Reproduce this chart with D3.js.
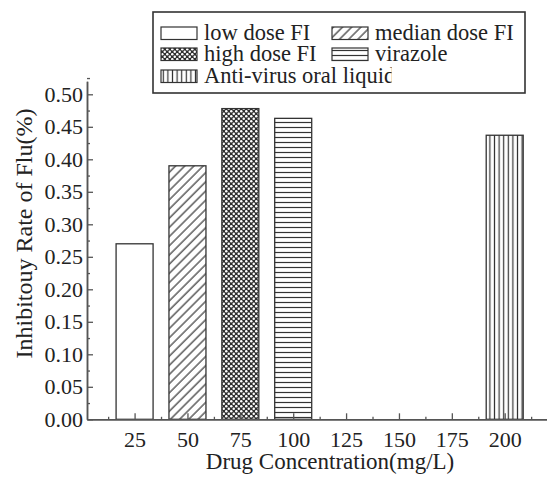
<!DOCTYPE html>
<html>
<head>
  <meta charset="utf-8">
  <style>
  body { margin: 0; background: #fff; }
  text { font-family: "Liberation Serif", "Times New Roman", serif; fill: #222; }
  .axis .domain { stroke: #555; stroke-width: 1.5; }
  .axis line { stroke: #555; stroke-width: 1.3; }
  .axis text { font-size: 22px; font-family: "Liberation Serif", serif; fill: #222; }
  .bar { stroke: #333; stroke-width: 1.3; }
  .legend-box { fill: #fff; stroke: #333; stroke-width: 1.6; }
  .legend text { font-size: 22.5px; }
  </style>
  <script src="https://d3js.org/d3.v7.min.js"></script>
</head>
<body>
<div id="container"></div>
<script>
// data
var series = ["low dose FI", "median dose FI", "high dose FI", "virazole", "Anti-virus oral liquid"]
var concentrations = [25, 50, 75, 100, 200]
var rates = [0.27, 0.39, 0.478, 0.463, 0.437]
var xTicks = [25, 50, 75, 100, 125, 150, 175, 200]
var yTicks = [0, 0.05, 0.10, 0.15, 0.20, 0.25, 0.30, 0.35, 0.40, 0.45, 0.50]

var width = 547, height = 479, barWidth = 37

var x = d3.scaleLinear().domain([2.5, 220]).range([87, 547])
var y = d3.scaleLinear().domain([0, 0.52]).range([419.3, 81.3])

var svg = d3.select("#container").append("svg")
    .attr("width", width)
    .attr("height", height)

var defs = svg.append("defs")

// fill patterns, one per series
var p
p = defs.append("pattern").attr("id", "pat1").attr("patternUnits", "userSpaceOnUse")
  .attr("width", 6.5).attr("height", 6.5).attr("patternTransform", "rotate(45)")
p.append("rect").attr("width", 6.5).attr("height", 6.5).attr("fill", "#fff")
p.append("line").attr("x1", 1).attr("x2", 1).attr("y1", 0).attr("y2", 6.5)
  .attr("stroke", "#333").attr("stroke-width", 1.2)

p = defs.append("pattern").attr("id", "pat2").attr("patternUnits", "userSpaceOnUse")
  .attr("width", 5).attr("height", 5)
p.append("rect").attr("width", 5).attr("height", 5).attr("fill", "#2e2e2e")
p.append("circle").attr("cx", 1.25).attr("cy", 1.25).attr("r", 1.25).attr("fill", "#fff")
p.append("circle").attr("cx", 3.75).attr("cy", 3.75).attr("r", 1.25).attr("fill", "#fff")

p = defs.append("pattern").attr("id", "pat3").attr("patternUnits", "userSpaceOnUse")
  .attr("width", 10).attr("height", 5)
p.append("rect").attr("width", 10).attr("height", 5).attr("fill", "#fff")
p.append("line").attr("x1", 0).attr("x2", 10).attr("y1", 2.5).attr("y2", 2.5)
  .attr("stroke", "#333").attr("stroke-width", 1.2)

p = defs.append("pattern").attr("id", "pat4").attr("patternUnits", "userSpaceOnUse")
  .attr("width", 4.6).attr("height", 10)
p.append("rect").attr("width", 4.6).attr("height", 10).attr("fill", "#fff")
p.append("line").attr("x1", 2.3).attr("x2", 2.3).attr("y1", 0).attr("y2", 10)
  .attr("stroke", "#333").attr("stroke-width", 1.2)

var fills = ["#fff", "url(#pat1)", "url(#pat2)", "url(#pat3)", "url(#pat4)"]

// bars
svg.selectAll(".bar")
    .data(rates)
  .enter().append("rect")
    .attr("class", "bar")
    .attr("x", function(d, i) { return x(concentrations[i]) - barWidth / 2 })
    .attr("y", function(d) { return y(d) })
    .attr("width", barWidth)
    .attr("height", function(d) { return y(0) - y(d) })
    .attr("fill", function(d, i) { return fills[i] })

// x axis: major + minor ticks pointing inward
var xMinor = xTicks.map(function(d) { return d - 12.5 }).concat([212.5])

svg.append("g")
    .attr("class", "axis")
    .attr("transform", "translate(0," + y(0) + ")")
    .call(d3.axisBottom(x).tickValues(xMinor).tickSize(-2.5).tickSizeOuter(0).tickFormat(""))

svg.append("g")
    .attr("class", "axis")
    .attr("transform", "translate(0," + y(0) + ")")
    .call(d3.axisBottom(x).tickValues(xTicks).tickSize(-6).tickSizeOuter(0).tickPadding(12))

// y axis
var yMinor = yTicks.map(function(d) { return d + 0.025 })

svg.append("g")
    .attr("class", "axis")
    .attr("transform", "translate(" + x(2.5) + ",0)")
    .call(d3.axisLeft(y).tickValues(yMinor).tickSize(-3).tickSizeOuter(0).tickFormat(""))

svg.append("g")
    .attr("class", "axis")
    .attr("transform", "translate(" + x(2.5) + ",0)")
    .call(d3.axisLeft(y).tickValues(yTicks).tickSize(-6).tickSizeOuter(0).tickPadding(4)
      .tickFormat(d3.format(".2f")))

// axis titles
svg.append("text")
    .attr("x", 330)
    .attr("y", 469)
    .attr("text-anchor", "middle")
    .style("font-size", "23px")
    .text("Drug Concentration(mg/L)")

svg.append("text")
    .attr("transform", "translate(32,233.5) rotate(-90)")
    .attr("text-anchor", "middle")
    .style("font-size", "24px")
    .text("Inhibitouy Rate of Flu(%)")

// legend
var legPos = [[161, 27], [332, 27], [161, 48], [332, 48], [161, 70]]
var legend = svg.append("g").attr("class", "legend")

legend.append("rect")
    .attr("class", "legend-box")
    .attr("x", 153).attr("y", 12)
    .attr("width", 372).attr("height", 81)

var items = legend.selectAll(".item")
    .data(series)
  .enter().append("g")
    .attr("class", "item")
    .attr("transform", function(d, i) { return "translate(" + legPos[i][0] + "," + legPos[i][1] + ")" })

items.append("rect")
    .attr("width", 36).attr("height", 12.5)
    .attr("fill", function(d, i) { return fills[i] })
    .attr("stroke", "#333").attr("stroke-width", 1.2)

var labels = items.append("text")
    .attr("x", 43)
    .attr("y", 12.5)
    .text(function(d) { return d })

// the last label is cut through its final "d" in the original
var last = labels.filter(function(d, i) { return i == 4 })
var cutAt = 43 + last.node().getComputedTextLength() - 3.6
defs.append("clipPath").attr("id", "legclip")
  .append("rect").attr("x", -10).attr("y", -20).attr("width", cutAt + 10).attr("height", 40)
last.attr("clip-path", "url(#legclip)")
</script>
</body>
</html>
